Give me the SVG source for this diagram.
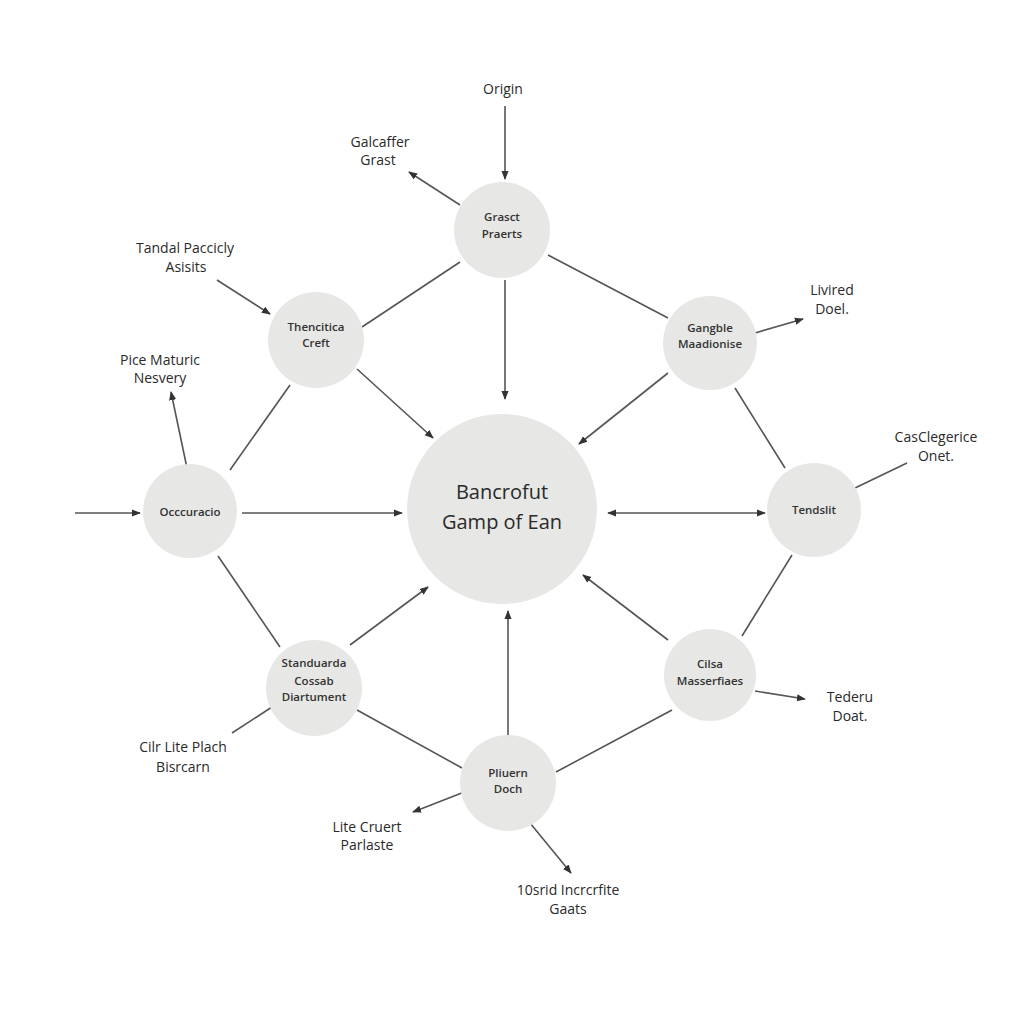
<svg xmlns="http://www.w3.org/2000/svg" width="1024" height="1024" viewBox="0 0 1024 1024">
<defs>
<marker id="arr" viewBox="0 0 10 10" refX="9" refY="5" markerWidth="9" markerHeight="9" markerUnits="userSpaceOnUse" orient="auto-start-reverse">
<path d="M0,1 L10,5 L0,9 z" fill="#333"/>
</marker>
<style>
.node{fill:#e7e7e5;}
.c{stroke:#555;stroke-width:1.6;fill:none;}
.a{marker-end:url(#arr);}
.nt{font-family:"Open Sans","DejaVu Sans",sans-serif;font-size:11.5px;font-weight:600;fill:#333;text-anchor:middle;}
.big{font-family:"Open Sans","DejaVu Sans",sans-serif;font-size:20px;font-weight:500;fill:#2a2a2a;text-anchor:middle;}
.lb{font-family:"Open Sans","DejaVu Sans",sans-serif;font-size:14px;font-weight:500;fill:#2a2a2a;text-anchor:middle;}
</style>
</defs>
<rect width="1024" height="1024" fill="#ffffff"/>
<g id="connectors">
<line class="c a" x1="505" y1="106" x2="505" y2="179"/>
<line class="c a" x1="460" y1="205" x2="409" y2="172"/>
<line class="c" x1="460" y1="262" x2="362" y2="327"/>
<line class="c" x1="548" y1="255" x2="668" y2="318"/>
<line class="c a" x1="505" y1="280" x2="505" y2="399"/>
<line class="c a" x1="217" y1="280" x2="270" y2="314"/>
<line class="c a" x1="357" y1="369" x2="433" y2="438"/>
<line class="c a" x1="668" y1="373" x2="579" y2="444"/>
<line class="c a" x1="242" y1="513" x2="402" y2="513"/>
<line class="c a" x1="75" y1="513" x2="140" y2="513"/>
<line class="c a" x1="187" y1="468" x2="171" y2="392"/>
<line class="c" x1="230" y1="470" x2="290" y2="385"/>
<line class="c a" x1="690" y1="513" x2="608" y2="513"/>
<line class="c a" x1="690" y1="513" x2="765" y2="513"/>
<line class="c a" x1="755" y1="333" x2="803" y2="319"/>
<line class="c" x1="735" y1="388" x2="785" y2="468"/>
<line class="c" x1="855" y1="488" x2="907" y2="463"/>
<line class="c" x1="792" y1="555" x2="742" y2="636"/>
<line class="c a" x1="755" y1="691" x2="805" y2="699"/>
<line class="c a" x1="668" y1="640" x2="583" y2="575"/>
<line class="c" x1="672" y1="710" x2="556" y2="772"/>
<line class="c a" x1="508" y1="735" x2="508" y2="611"/>
<line class="c a" x1="350" y1="645" x2="428" y2="587"/>
<line class="c" x1="357" y1="710" x2="462" y2="768"/>
<line class="c" x1="280" y1="647" x2="218" y2="556"/>
<line class="c" x1="272" y1="707" x2="232" y2="733"/>
<line class="c a" x1="472" y1="789" x2="413" y2="812"/>
<line class="c a" x1="530" y1="823" x2="571" y2="873"/>
</g>
<g id="center">
<circle class="node" cx="502" cy="509" r="95"/>
<text class="big" x="502" y="499">Bancrofut</text>
<text class="big" x="502" y="529">Gamp of Ean</text>
</g>
<g id="n-grasct">
<circle class="node" cx="502" cy="230" r="48"/>
<text class="nt" x="502" y="221">Grasct</text>
<text class="nt" x="502" y="238">Praerts</text>
</g>
<g id="n-thencitica">
<circle class="node" cx="316" cy="340" r="48"/>
<text class="nt" x="316" y="331">Thencitica</text>
<text class="nt" x="316" y="347">Creft</text>
</g>
<g id="n-gangble">
<circle class="node" cx="710" cy="343" r="47"/>
<text class="nt" x="710" y="332">Gangble</text>
<text class="nt" x="710" y="348">Maadionise</text>
</g>
<g id="n-occcuracio">
<circle class="node" cx="190" cy="511" r="47"/>
<text class="nt" x="190" y="516">Occcuracio</text>
</g>
<g id="n-tendslit">
<circle class="node" cx="814" cy="510" r="47"/>
<text class="nt" x="814" y="514">Tendslit</text>
</g>
<g id="n-standuarda">
<circle class="node" cx="314" cy="688" r="48"/>
<text class="nt" x="314" y="667">Standuarda</text>
<text class="nt" x="314" y="685">Cossab</text>
<text class="nt" x="314" y="701">Diartument</text>
</g>
<g id="n-cilsa">
<circle class="node" cx="710" cy="675" r="46"/>
<text class="nt" x="710" y="668">Cilsa</text>
<text class="nt" x="710" y="685">Masserfiaes</text>
</g>
<g id="n-pliuern">
<circle class="node" cx="508" cy="783" r="48"/>
<text class="nt" x="508" y="777">Pliuern</text>
<text class="nt" x="508" y="793">Doch</text>
</g>
<g id="labels">
<text class="lb" x="503" y="94">Origin</text>
<text class="lb" x="380" y="147">Galcaffer</text>
<text class="lb" x="378" y="165">Grast</text>
<text class="lb" x="185" y="253">Tandal Paccicly</text>
<text class="lb" x="186" y="272">Asisits</text>
<text class="lb" x="160" y="365">Pice Maturic</text>
<text class="lb" x="160" y="383">Nesvery</text>
<text class="lb" x="832" y="295">Livired</text>
<text class="lb" x="832" y="314">Doel.</text>
<text class="lb" x="936" y="442">CasClegerice</text>
<text class="lb" x="936" y="461">Onet.</text>
<text class="lb" x="850" y="702">Tederu</text>
<text class="lb" x="850" y="721">Doat.</text>
<text class="lb" x="183" y="752">Cilr Lite Plach</text>
<text class="lb" x="183" y="772">Bisrcarn</text>
<text class="lb" x="367" y="832">Lite Cruert</text>
<text class="lb" x="367" y="850">Parlaste</text>
<text class="lb" x="568" y="895">10srid Incrcrfite</text>
<text class="lb" x="568" y="914">Gaats</text>
</g>
</svg>
